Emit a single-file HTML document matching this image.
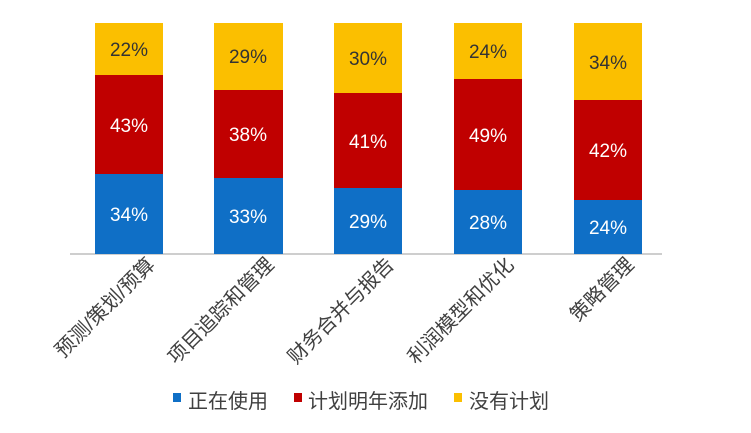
<!DOCTYPE html>
<html><head><meta charset="utf-8"><style>
body{margin:0;background:#fff;}
svg text{font-family:"Liberation Sans","Noto Sans CJK SC",sans-serif;}
</style></head><body>
<svg width="751" height="428" xmlns="http://www.w3.org/2000/svg">
<line x1="70" y1="254" x2="662" y2="254" stroke="#bdbdbd" stroke-width="1.5"/>
<g font-size="19" text-anchor="middle">
<rect x="95" y="23" width="68" height="52" fill="#fbbf00"/><rect x="95" y="75" width="68" height="99" fill="#c00000"/><rect x="95" y="174" width="68" height="80" fill="#0f6fc6"/>
<text x="129" y="56" fill="#333">22%</text><text x="129" y="132" fill="#fff">43%</text><text x="129" y="221" fill="#fff">34%</text>
<rect x="214" y="23" width="69" height="67" fill="#fbbf00"/><rect x="214" y="90" width="69" height="88" fill="#c00000"/><rect x="214" y="178" width="69" height="76" fill="#0f6fc6"/>
<text x="248" y="63" fill="#333">29%</text><text x="248" y="141" fill="#fff">38%</text><text x="248" y="223" fill="#fff">33%</text>
<rect x="334" y="23" width="68" height="70" fill="#fbbf00"/><rect x="334" y="93" width="68" height="95" fill="#c00000"/><rect x="334" y="188" width="68" height="66" fill="#0f6fc6"/>
<text x="368" y="65" fill="#333">30%</text><text x="368" y="148" fill="#fff">41%</text><text x="368" y="228" fill="#fff">29%</text>
<rect x="454" y="23" width="68" height="56" fill="#fbbf00"/><rect x="454" y="79" width="68" height="111" fill="#c00000"/><rect x="454" y="190" width="68" height="64" fill="#0f6fc6"/>
<text x="488" y="58" fill="#333">24%</text><text x="488" y="142" fill="#fff">49%</text><text x="488" y="229" fill="#fff">28%</text>
<rect x="574" y="23" width="68" height="77" fill="#fbbf00"/><rect x="574" y="100" width="68" height="100" fill="#c00000"/><rect x="574" y="200" width="68" height="54" fill="#0f6fc6"/>
<text x="608" y="69" fill="#333">34%</text><text x="608" y="157" fill="#fff">42%</text><text x="608" y="234" fill="#fff">24%</text>
</g>
<g font-size="20" fill="#404040" text-anchor="end">
<text transform="translate(156,266) rotate(-45)">预测/策划/预算</text>
<text transform="translate(275,266) rotate(-45)">项目追踪和管理</text>
<text transform="translate(395,266) rotate(-45)">财务合并与报告</text>
<text transform="translate(515,266) rotate(-45)">利润模型和优化</text>
<text transform="translate(635,266) rotate(-45)">策略管理</text>
</g>
<g font-size="20" fill="#404040">
<rect x="173" y="393" width="8" height="9" fill="#0f6fc6"/><text x="188" y="408">正在使用</text>
<rect x="294" y="393" width="8" height="9" fill="#c00000"/><text x="308" y="408">计划明年添加</text>
<rect x="454" y="393" width="8" height="9" fill="#fbbf00"/><text x="469" y="408">没有计划</text>
</g>
</svg>
</body></html>
